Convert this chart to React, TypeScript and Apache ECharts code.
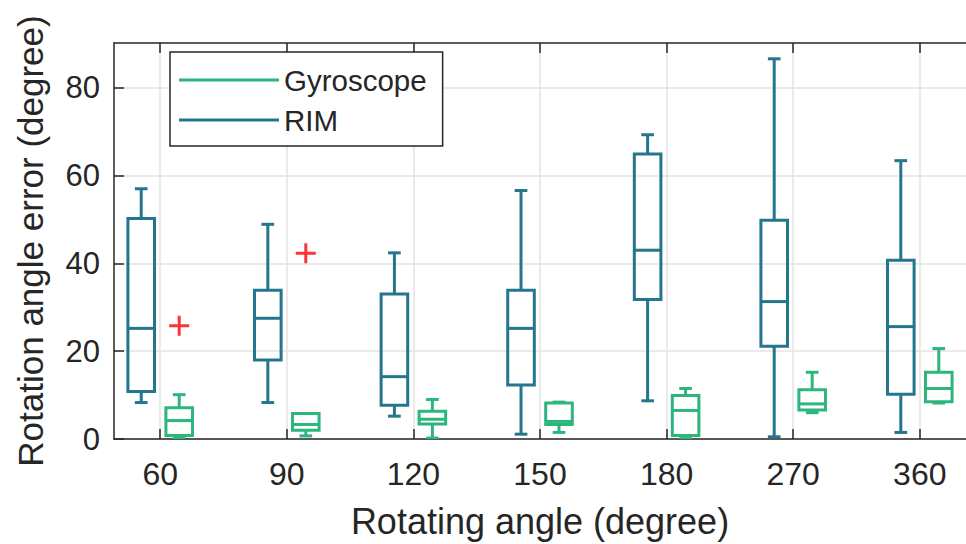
import React, { useEffect, useRef } from "react";
import * as echarts from "echarts";

const categories = ["60", "90", "120", "150", "180", "270", "360"];
// [lower whisker, q1, median, q3, upper whisker]
const rimStats = [
  [8.3, 10.8, 25.2, 50.2, 57.0],
  [8.3, 18.0, 27.5, 33.9, 48.9],
  [5.2, 7.7, 14.2, 33.0, 42.4],
  [1.1, 12.3, 25.2, 33.9, 56.6],
  [8.7, 31.8, 43.0, 64.9, 69.3],
  [0.5, 21.1, 31.3, 49.8, 86.6],
  [1.5, 10.2, 25.6, 40.7, 63.4],
];
const gyroStats = [
  [0.3, 0.8, 4.2, 7.1, 10.1],
  [0.7, 2.0, 3.3, 5.8, 5.8],
  [0.2, 3.4, 4.5, 6.3, 9.0],
  [1.5, 3.3, 4.0, 8.2, 8.4],
  [0.1, 0.8, 6.5, 9.9, 11.5],
  [6.0, 6.6, 8.0, 11.2, 15.2],
  [8.2, 8.5, 11.5, 15.2, 20.6],
];
// [category index, value]
const gyroOutliers = [
  [0, 25.8],
  [1, 42.3],
];
const yTicks = [0, 20, 40, 60, 80];
const seriesNames = ["Gyroscope", "RIM"];

const RIM_COLOR = "#23768d";
const GYRO_COLOR = "#2db67c";
const AXIS_COLOR = "#262626";
const GRID_COLOR = "#e3e3e3";
const FONT = "Liberation Sans, Arial, sans-serif";
const OFFSET = 0.15;

function makeRenderer(offset: number, color: string) {
  return (params: any, api: any) => {
    const cx = api.value(0) + offset;
    const low = api.value(1);
    const q1 = api.value(2);
    const med = api.value(3);
    const q3 = api.value(4);
    const high = api.value(5);
    const unit = api.size([1, 0])[0];
    const halfBox = unit * 0.105;
    const halfCap = unit * 0.05;
    const [x, yLow] = api.coord([cx, low]);
    const yQ1 = api.coord([cx, q1])[1];
    const yMed = api.coord([cx, med])[1];
    const yQ3 = api.coord([cx, q3])[1];
    const yHigh = api.coord([cx, high])[1];
    const style = { stroke: color, lineWidth: 3, fill: "none" };
    return {
      type: "group",
      children: [
        { type: "line", shape: { x1: x, y1: yHigh, x2: x, y2: yQ3 }, style },
        { type: "line", shape: { x1: x, y1: yQ1, x2: x, y2: yLow }, style },
        { type: "line", shape: { x1: x - halfCap, y1: yHigh, x2: x + halfCap, y2: yHigh }, style },
        { type: "line", shape: { x1: x - halfCap, y1: yLow, x2: x + halfCap, y2: yLow }, style },
        { type: "rect", shape: { x: x - halfBox, y: yQ3, width: halfBox * 2, height: yQ1 - yQ3 }, style },
        { type: "line", shape: { x1: x - halfBox, y1: yMed, x2: x + halfBox, y2: yMed }, style },
      ],
    };
  };
}

export default function App() {
  const ref = useRef<HTMLDivElement>(null);
  useEffect(() => {
    if (!ref.current) return;
    const chart = echarts.init(ref.current, null, { renderer: "svg" });
    const tickVals = categories.map((_, i) => i + 1);
    const xMin = 0.635;
    const xMax = 7.365;
    chart.setOption({
      animation: false,
      backgroundColor: "#ffffff",
      textStyle: { fontFamily: FONT },
      grid: { left: 114, right: -13, top: 43, bottom: 104, containLabel: false },
      legend: {
        show: true,
        orient: "vertical",
        left: 170,
        top: 52,
        padding: [13, 16, 11, 9],
        itemWidth: 100,
        itemHeight: 3,
        itemGap: 10,
        backgroundColor: "#ffffff",
        borderColor: AXIS_COLOR,
        borderWidth: 1.5,
        data: [
          { name: seriesNames[0], icon: "rect", itemStyle: { color: GYRO_COLOR } },
          { name: seriesNames[1], icon: "rect", itemStyle: { color: RIM_COLOR } },
        ],
        textStyle: { fontSize: 29.5, color: AXIS_COLOR, fontFamily: FONT },
      },
      xAxis: [
        {
          type: "value",
          min: xMin,
          max: xMax,
          position: "bottom",
          name: "Rotating angle (degree)",
          nameLocation: "middle",
          nameGap: 64,
          nameTextStyle: { fontSize: 36, color: AXIS_COLOR, fontFamily: FONT },
          axisLine: { show: true, lineStyle: { color: AXIS_COLOR, width: 1.5 } },
          axisTick: { show: true, inside: true, length: 10, customValues: tickVals, lineStyle: { color: AXIS_COLOR, width: 1.5 } },
          axisLabel: {
            show: true,
            customValues: tickVals,
            margin: 19,
            fontSize: 32,
            color: AXIS_COLOR,
            fontFamily: FONT,
            formatter: (v: number) => categories[Math.round(v) - 1] ?? "",
          },
          splitLine: { show: true, lineStyle: { color: GRID_COLOR, width: 1.5 } },
        },
        {
          type: "value",
          min: xMin,
          max: xMax,
          position: "top",
          axisLine: { show: true, onZero: false, lineStyle: { color: AXIS_COLOR, width: 1.5 } },
          axisTick: { show: true, inside: true, length: 10, customValues: tickVals, lineStyle: { color: AXIS_COLOR, width: 1.5 } },
          axisLabel: { show: false },
          splitLine: { show: false },
        },
      ],
      yAxis: {
        type: "value",
        min: 0,
        max: 90.2,
        name: "Rotation angle error (degree)",
        nameLocation: "middle",
        nameGap: 66,
        nameTextStyle: { fontSize: 35, color: AXIS_COLOR, fontFamily: FONT },
        axisLine: { show: true, lineStyle: { color: AXIS_COLOR, width: 1.5 } },
        axisTick: { show: true, inside: true, length: 10, customValues: yTicks, lineStyle: { color: AXIS_COLOR, width: 1.5 } },
        axisLabel: { show: true, customValues: yTicks, margin: 14, fontSize: 31, color: AXIS_COLOR, fontFamily: FONT },
        splitLine: { show: true, lineStyle: { color: GRID_COLOR, width: 1.5 } },
      },
      series: [
        {
          name: seriesNames[0],
          type: "custom",
          itemStyle: { color: GYRO_COLOR },
          renderItem: makeRenderer(OFFSET, GYRO_COLOR),
          data: gyroStats.map((s, i) => [i + 1, ...s]),
          encode: { x: 0, y: [1, 2, 3, 4, 5] },
          clip: true,
        },
        {
          name: seriesNames[1],
          type: "custom",
          itemStyle: { color: RIM_COLOR },
          renderItem: makeRenderer(-OFFSET, RIM_COLOR),
          data: rimStats.map((s, i) => [i + 1, ...s]),
          encode: { x: 0, y: [1, 2, 3, 4, 5] },
          clip: true,
        },
        {
          name: "Outliers",
          type: "scatter",
          symbol: "path://M0,8.5H20V11.5H0Z M8.5,0H11.5V20H8.5Z",
          symbolSize: 20,
          itemStyle: { color: "#ff0000" },
          data: gyroOutliers.map(([i, v]) => [i + 1 + OFFSET, v]),
        },
      ],
    });
    return () => chart.dispose();
  }, []);
  return (
    <div
      ref={ref}
      style={{ position: "fixed", left: 0, top: 0, width: 966, height: 544, background: "#fff" }}
    />
  );
}
